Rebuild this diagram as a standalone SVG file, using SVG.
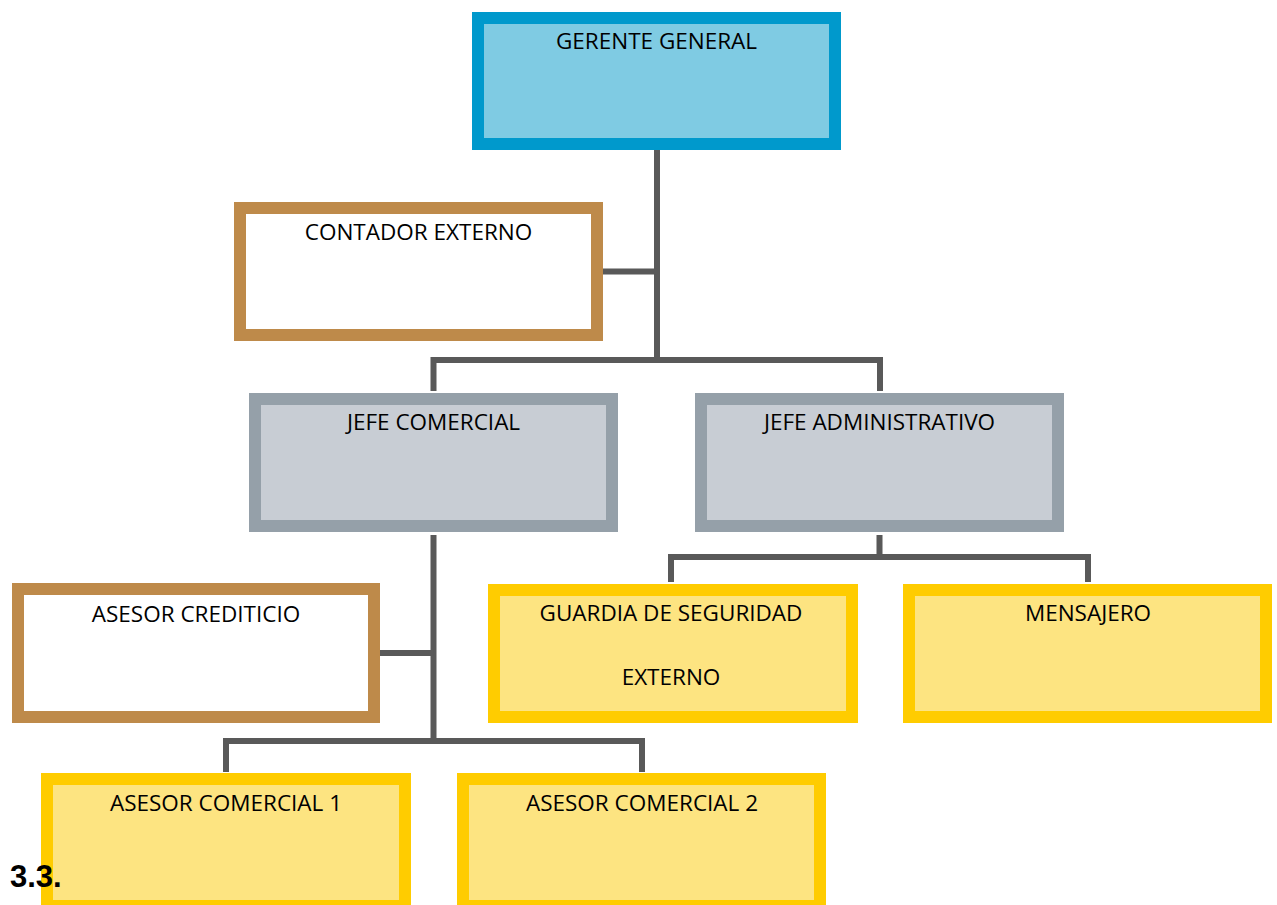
<svg xmlns="http://www.w3.org/2000/svg" width="1277" height="905" viewBox="0 0 1277 905">
<style>
.box{stroke-width:12}
.blue{fill:#7FCBE3;stroke:#0099CC}
.brown{fill:#FFFFFF;stroke:#BE8A4A}
.gray{fill:#C8CDD4;stroke:#95A0A9}
.yellow{fill:#FDE481;stroke:#FFCC00}
.lbl{font-family:"Open Sans","Liberation Sans",sans-serif;font-size:22.5px;fill:#000;text-anchor:middle}
.conn{fill:none;stroke:#595959;stroke-width:6}
</style>
<rect width="1277" height="905" fill="#FFFFFF"/>
<g id="connectors">
<path class="conn" d="M657 150V360"/>
<path class="conn" d="M603 271.5H657"/>
<path class="conn" d="M433.5 391V360H880V391"/>
<path class="conn" d="M433.5 535V741"/>
<path class="conn" d="M380 653H433.5"/>
<path class="conn" d="M226 772V741H642V772"/>
<path class="conn" d="M879.5 535V557H671V582M879.5 557H1088V582"/>
</g>
<g id="gerente"><rect class="box blue" x="478" y="18" width="357" height="126"/><text class="lbl" x="656.5" y="49">GERENTE GENERAL</text></g>
<g id="contador"><rect class="box brown" x="240" y="208" width="357" height="127"/><text class="lbl" x="418.5" y="240">CONTADOR EXTERNO</text></g>
<g id="jefe-comercial"><rect class="box gray" x="255" y="399" width="357" height="127"/><text class="lbl" x="433.5" y="430">JEFE COMERCIAL</text></g>
<g id="jefe-administrativo"><rect class="box gray" x="701" y="399" width="357" height="127"/><text class="lbl" x="879.5" y="430">JEFE ADMINISTRATIVO</text></g>
<g id="asesor-crediticio"><rect class="box brown" x="18" y="589" width="356" height="128"/><text class="lbl" x="196" y="622">ASESOR CREDITICIO</text></g>
<g id="guardia"><rect class="box yellow" x="494" y="590" width="358" height="127"/><text class="lbl" x="671" y="621">GUARDIA DE SEGURIDAD</text><text class="lbl" x="671" y="685">EXTERNO</text></g>
<g id="mensajero"><rect class="box yellow" x="909" y="590" width="357" height="127"/><text class="lbl" x="1088" y="621">MENSAJERO</text></g>
<g id="asesor-comercial-1"><rect class="box yellow" x="47" y="779" width="358" height="127"/><text class="lbl" x="226" y="811">ASESOR COMERCIAL 1</text></g>
<g id="asesor-comercial-2"><rect class="box yellow" x="463" y="779" width="357" height="127"/><text class="lbl" x="642" y="811">ASESOR COMERCIAL 2</text></g>
<text x="10" y="887" font-family="'Liberation Sans',Arial,sans-serif" font-size="31" font-weight="bold" fill="#000">3.3.</text>
</svg>
